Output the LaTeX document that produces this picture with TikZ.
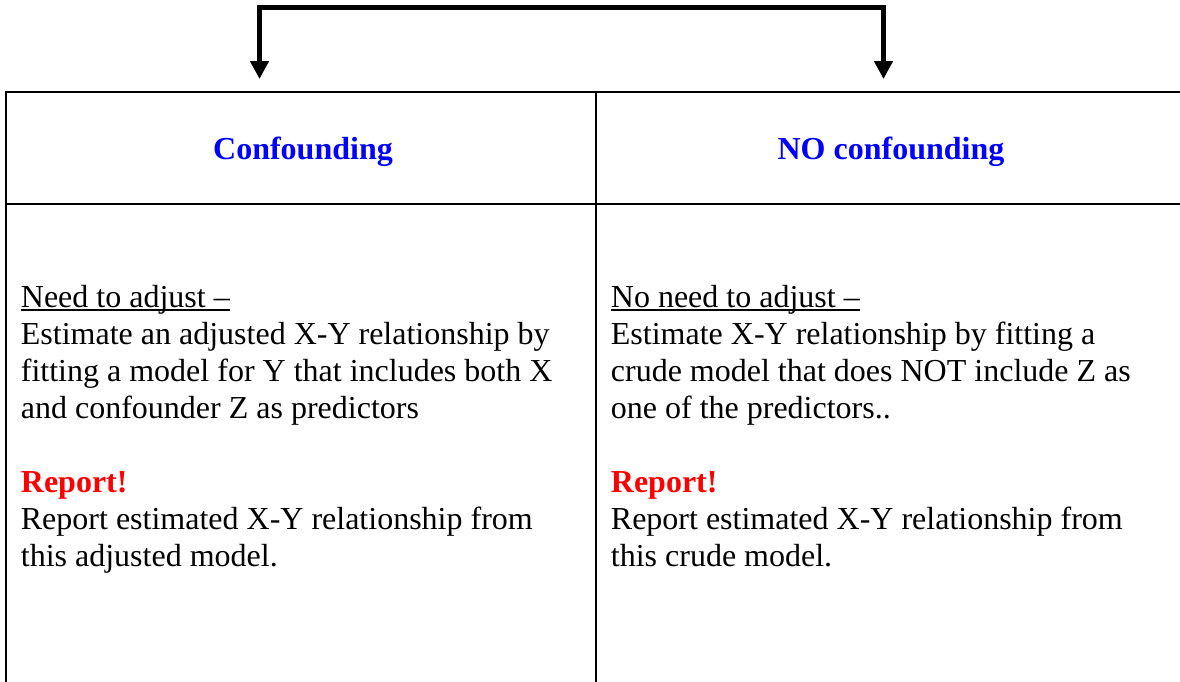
\documentclass[tikz,border=0pt]{standalone}
\usepackage{fontspec}
\setmainfont{Liberation Serif}
\usetikzlibrary{arrows.meta}
\definecolor{headblue}{RGB}{0,0,255}
\definecolor{reportred}{RGB}{255,0,0}
\newcommand\cellfont{\fontsize{32pt}{37pt}\selectfont}
\newcommand\tightspaces{\spaceskip=0pt\relax\xspaceskip=0pt\relax}
\newcommand\underlinedtxt[1]{\setbox0\hbox{#1}\rlap{\rule[-3.4pt]{\wd0}{1.6pt}}\box0}
\tikzset{
  cellbox/.style={draw, line width=2pt, minimum width=590pt, inner sep=0pt},
  headtext/.style={font=\cellfont\bfseries, text=headblue, anchor=base, inner sep=0pt},
  bodytext/.style={font=\cellfont, anchor=base west, text width=575pt, align=left, inner sep=0pt,
    execute at begin node={\tightspaces}},
  bracket/.style={line width=5pt, -{Triangle[length=18pt,width=18pt]}}
}
\begin{document}
\begin{tikzpicture}[x=1pt, y=-1pt]
        \path[use as bounding box, clip] (0,0) rectangle (1180,681);
        % cells
        \node [cellbox, minimum height=112pt] (confcell) at (301,148) {};
        \node [cellbox, minimum height=112pt] (noconfcell) at (891,148) {};
        \node [cellbox, minimum height=520pt] (adjcell) at (301,464) {};
        \node [cellbox, minimum height=520pt] (crudecell) at (891,464) {};
        % bracket
        \coordinate (bar) at (571.5,7.5);
        \coordinate (armL) at (259.5,79);
        \coordinate (armR) at (883.5,79);
        \draw [bracket] (bar) -| (armL);
        \draw [bracket] (bar) -| (armR);
        % headings
        \node [headtext] (conf) at (303,159) {Confounding};
        \node [headtext] (noconf) at (891,159) {NO confounding};
        % texts
        \node [bodytext] (adjtext) at (20.7,307.3) {\underlinedtxt{Need to adjust –}\\
          Estimate an adjusted X-Y relationship by\\
          fitting a model for Y that includes both X\\
          and confounder Z as predictors\\[37pt]
          \textcolor{reportred}{\bfseries Report!}\\
          Report estimated X-Y relationship from\\
          this adjusted model.};
        \node [bodytext] (crudetext) at (610.7,307.3) {\underlinedtxt{No need to adjust –}\\
          Estimate X-Y relationship by fitting a\\
          crude model that does NOT include Z as\\
          one of the predictors..\\[37pt]
          \textcolor{reportred}{\bfseries Report!}\\
          Report estimated X-Y relationship from\\
          this crude model.};
\end{tikzpicture}
\end{document}
